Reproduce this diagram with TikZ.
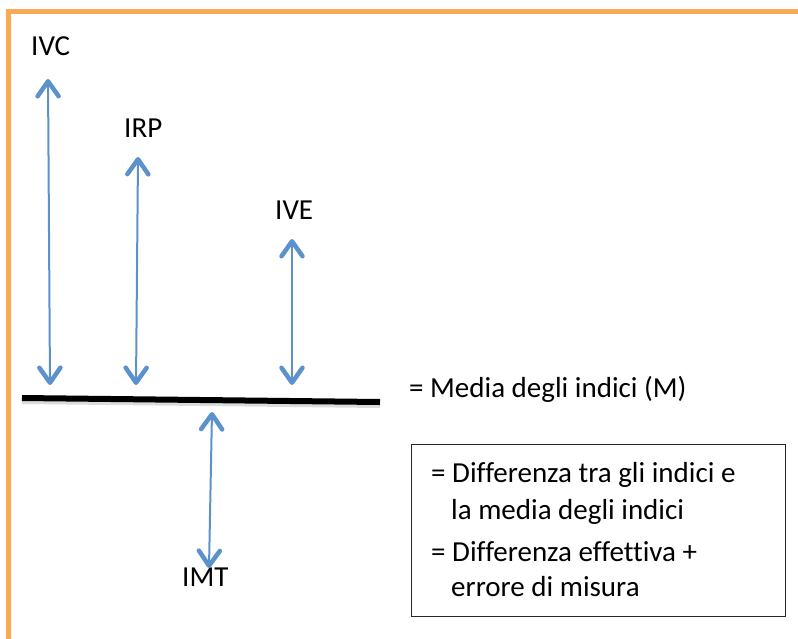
\documentclass[tikz,border=0pt]{standalone}
\usepackage{fontspec}
\setmainfont{Carlito}[Ligatures={NoCommon}]
\usetikzlibrary{arrows.meta}
\definecolor{frameorange}{RGB}{251,170,84}
\definecolor{arrowblue}{RGB}{92,146,204}
\begin{document}
\begin{tikzpicture}[x=1pt,y=-1pt,
  lbl/.style={anchor=base west, inner sep=0pt, font=\fontsize{29}{34}\selectfont},
  barb/.tip={Straight Barb[length=15pt,width=21pt,line width=4.5pt,round]},
  dbl/.style={arrowblue, line width=2pt, barb-barb},
]
\useasboundingbox (0,0) rectangle (798,638);
% orange frame
\draw[frameorange, line width=5pt] (8.5,640) -- (8.5,11) -- (800,11);

% labels
\node[lbl] (ivc) at (31,55) {IVC};
\node[lbl] (irp) at (124,137) {IRP};
\node[lbl] (ive) at (275,219) {IVE};
\node[lbl] (imt) at (182,586) {IMT};
\node[lbl] (media) at (409,397) {= Media degli indici (M)};

% mean line
\coordinate (mL) at (22,398);
\coordinate (mR) at (380,402);
\draw[black!20, line width=4pt, opacity=0.7] ([yshift=-4pt]mL) -- ([yshift=-4pt]mR);
\draw[black, line width=6pt] (mL) -- (mR);

% arrows
\coordinate (ivcT) at (48,79);
\coordinate (ivcB) at (50,385);
\coordinate (irpT) at (138,157);
\coordinate (irpB) at (136,385);
\coordinate (iveT) at (292,239);
\coordinate (iveB) at (292,385);
\coordinate (imtT) at (212,412);
\coordinate (imtB) at (209,568);
\draw[dbl] (ivcT) -- (ivcB);
\draw[dbl] (irpT) -- (irpB);
\draw[dbl] (iveT) -- (iveB);
\draw[dbl] (imtT) -- (imtB);

% legend box
\node[draw=black!85, line width=1.2pt, minimum width=374pt, minimum height=172pt, anchor=north west, inner sep=0pt] (box) at (411,444) {};
\node[lbl] (l1) at (431,482) {= Differenza tra gli indici e};
\node[lbl] (l2) at (451,519) {la media degli indici};
\node[lbl] (l3) at (431,561) {= Differenza effettiva +};
\node[lbl] (l4) at (451,596) {errore di misura};
\end{tikzpicture}
\end{document}
